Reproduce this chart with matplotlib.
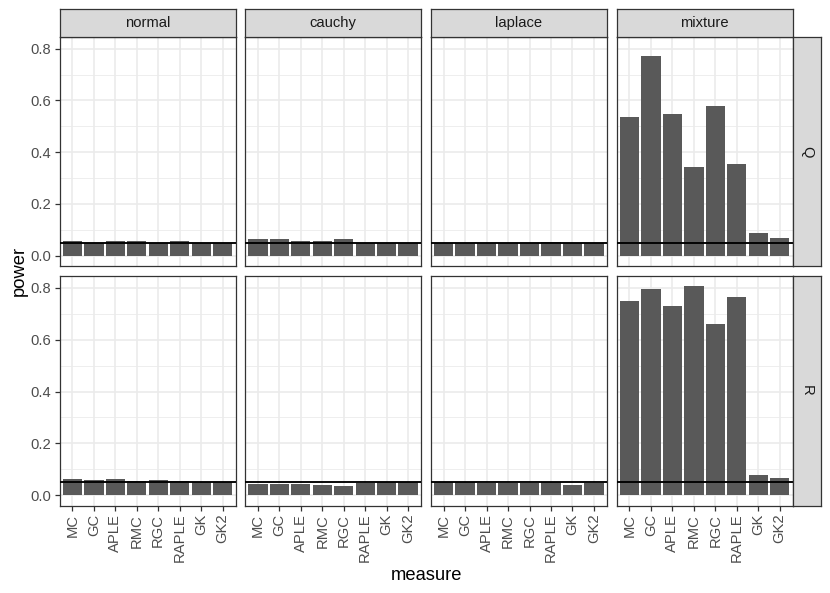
import matplotlib
matplotlib.use("Agg")
import matplotlib.pyplot as plt
import numpy as np

plt.rcParams['font.family'] = ['Liberation Sans', 'DejaVu Sans']

measures = ["MC", "GC", "APLE", "RMC", "RGC", "RAPLE", "GK", "GK2"]
distributions = ["normal", "cauchy", "laplace", "mixture"]
rows = ["Q", "R"]

power_Q_normal = [0.057, 0.050, 0.056, 0.058, 0.050, 0.056, 0.048, 0.049]
power_Q_cauchy = [0.066, 0.064, 0.057, 0.057, 0.063, 0.050, 0.049, 0.049]
power_Q_laplace = [0.049, 0.050, 0.049, 0.048, 0.049, 0.052, 0.048, 0.049]
power_Q_mixture = [0.536, 0.770, 0.546, 0.341, 0.577, 0.355, 0.087, 0.070]

power_R_normal = [0.063, 0.058, 0.064, 0.056, 0.059, 0.056, 0.050, 0.049]
power_R_cauchy = [0.041, 0.042, 0.041, 0.040, 0.035, 0.047, 0.049, 0.049]
power_R_laplace = [0.049, 0.051, 0.048, 0.048, 0.048, 0.049, 0.039, 0.048]
power_R_mixture = [0.750, 0.795, 0.732, 0.806, 0.659, 0.767, 0.078, 0.067]

nominal_level = 0.05

data = {
    ("Q", "normal"): power_Q_normal,
    ("Q", "cauchy"): power_Q_cauchy,
    ("Q", "laplace"): power_Q_laplace,
    ("Q", "mixture"): power_Q_mixture,
    ("R", "normal"): power_R_normal,
    ("R", "cauchy"): power_R_cauchy,
    ("R", "laplace"): power_R_laplace,
    ("R", "mixture"): power_R_mixture,
}

W, H = 830, 593
fig = plt.figure(figsize=(W / 100, H / 100), dpi=100)

x_lefts = [59.5, 245.0, 430.8, 616.6]
pw = 176.0
row_tops = [36.7, 276.0]
ph = 229.5
strip_h = 27.7
strip_w = 28.4

tick_fs = 10.6
strip_fs = 10.6
title_fs = 13.2

all_vals = np.concatenate([np.array(v) for v in data.values()])
ymax = all_vals.max()
ylo, yhi = -0.05 * ymax, ymax * 1.05

border_c = "#333333"
grid_c = "#EBEBEB"
text_c = "#4D4D4D"

def fx(px):
    return px / W

def fy(py):
    return 1 - py / H

xpos = np.arange(1, len(measures) + 1)

for ri, r in enumerate(rows):
    for ci, d in enumerate(distributions):
        top = row_tops[ri]
        ax = fig.add_axes([fx(x_lefts[ci]), fy(top + ph), pw / W, ph / H])
        ax.set_xlim(0.4, len(measures) + 0.6)
        ax.set_ylim(ylo, yhi)
        for yv in np.arange(0.1, 0.85, 0.2):
            ax.axhline(yv, color=grid_c, lw=0.6, zorder=0)
        for yv in np.arange(0.0, 0.85, 0.2):
            ax.axhline(yv, color=grid_c, lw=1.2, zorder=0)
        for xv in xpos:
            ax.axvline(xv, color=grid_c, lw=1.2, zorder=0)
        ax.bar(xpos, data[(r, d)], width=0.9, color="#595959", zorder=2)
        ax.axhline(nominal_level, color="black", lw=1.35, zorder=3)
        for s in ax.spines.values():
            s.set_color(border_c)
            s.set_linewidth(0.9)
        ax.set_facecolor("white")
        ax.set_yticks(np.arange(0, 0.81, 0.2))
        ax.set_xticks(xpos)
        ax.tick_params(color=border_c, length=3.5, width=0.9, labelcolor=text_c,
                       labelsize=tick_fs, pad=2.5)
        if ci == 0:
            ax.set_yticklabels([f"{v:.1f}" for v in np.arange(0, 0.81, 0.2)])
        else:
            ax.tick_params(axis="y", length=0, labelleft=False)
        if ri == 1:
            ax.set_xticklabels(measures, rotation=90)
        else:
            ax.tick_params(axis="x", length=0, labelbottom=False)
        if ri == 0:
            sax = fig.add_axes([fx(x_lefts[ci]), fy(top), pw / W, strip_h / H])
            sax.set_facecolor("#D9D9D9")
            sax.set_xticks([]); sax.set_yticks([])
            for s in sax.spines.values():
                s.set_color(border_c); s.set_linewidth(0.9)
            sax.text(0.5, 0.5, d, ha="center", va="center", fontsize=strip_fs, color="#1A1A1A",
                     transform=sax.transAxes)
        if ci == len(distributions) - 1:
            rax = fig.add_axes([fx(x_lefts[ci] + pw), fy(top + ph), strip_w / W, ph / H])
            rax.set_facecolor("#D9D9D9")
            rax.set_xticks([]); rax.set_yticks([])
            for s in rax.spines.values():
                s.set_color(border_c); s.set_linewidth(0.9)
            rax.text(0.5, 0.5, r, ha="center", va="center", fontsize=strip_fs, color="#1A1A1A",
                     rotation=-90, transform=rax.transAxes)

fig.text(fx(19), fy((row_tops[0] + row_tops[1] + ph) / 2), "power", rotation=90,
         ha="center", va="center", fontsize=title_fs, color="black")
fig.text(fx((x_lefts[0] + x_lefts[3] + pw) / 2), fy(576), "measure",
         ha="center", va="center", fontsize=title_fs, color="black")

fig.savefig("out.png", dpi=100, facecolor="white")
